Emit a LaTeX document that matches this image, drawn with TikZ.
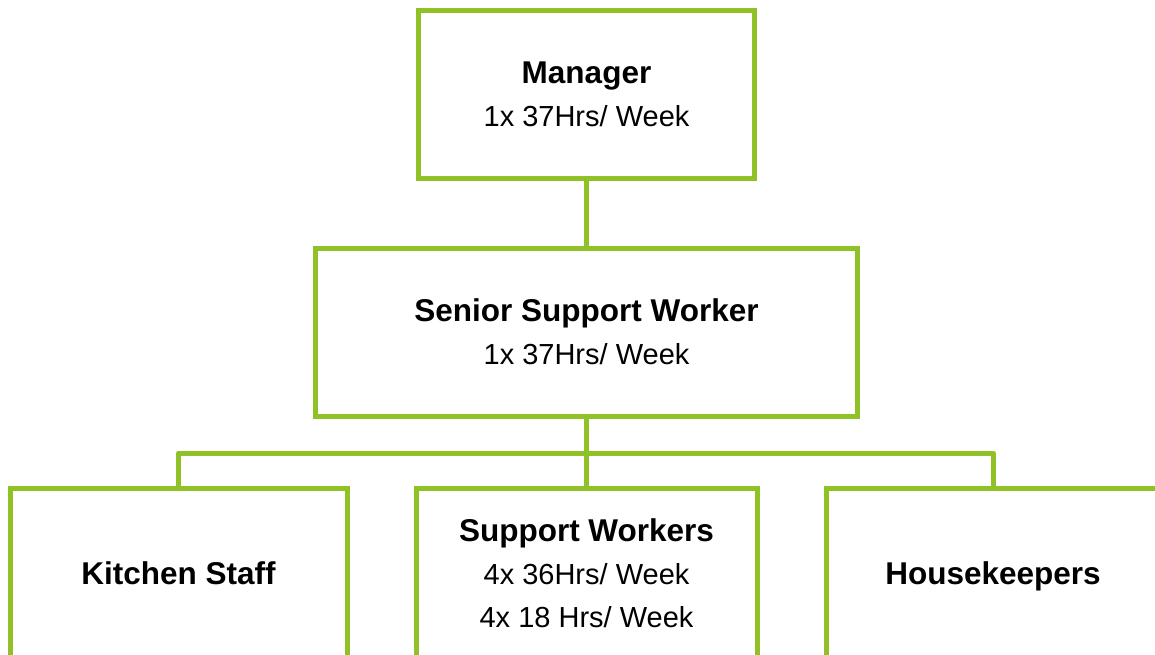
\documentclass[tikz,border=0pt]{standalone}
\usepackage{fontspec}
\setmainfont{Liberation Sans}
\definecolor{lime}{RGB}{144,194,40}
\begin{document}
\begin{tikzpicture}[x=1pt,y=-1pt,
  box/.style={draw=lime,line width=5pt,fill=white,rectangle,align=center,inner sep=0pt,
    font=\fontsize{29}{43}\selectfont},
  conn/.style={draw=lime,line width=5pt}]
\useasboundingbox (0,0) rectangle (1155,654);
\clip (0,0) rectangle (1155,654);
\fill[white] (0,0) rectangle (1155,654);
\node[box,minimum width=336pt,minimum height=168pt] (manager) at (586.5,94)
  {{\bfseries\fontsize{31.5}{43}\selectfont Manager}\\1x 37Hrs/ Week};
\node[box,minimum width=542pt,minimum height=168pt] (senior) at (586.5,332)
  {{\bfseries\fontsize{31.5}{43}\selectfont Senior Support Worker}\\1x 37Hrs/ Week};
\node[box,minimum width=337pt,minimum height=170pt,text depth=0pt] (kitchen) at (178.5,573)
  {{\bfseries\fontsize{31.5}{43}\selectfont Kitchen Staff}};
\node[box,minimum width=341pt,minimum height=170pt] (support) at (586.5,573)
  {{\bfseries\fontsize{31.5}{43}\selectfont Support Workers}\\4x 36Hrs/ Week\\4x 18 Hrs/ Week};
\node[box,minimum width=334pt,minimum height=170pt,text depth=0pt] (house) at (993,573)
  {{\bfseries\fontsize{31.5}{43}\selectfont Housekeepers}};
\coordinate (bus) at (586.5,453);
\draw[conn] (manager.south) -- (senior.north);
\draw[conn] (senior.south) -- (bus);
\draw[conn] (bus) -- (support.north);
\draw[conn,line join=round] (bus) -| (kitchen.north);
\draw[conn,line join=round] (bus) -| (house.north);
\end{tikzpicture}
\end{document}
